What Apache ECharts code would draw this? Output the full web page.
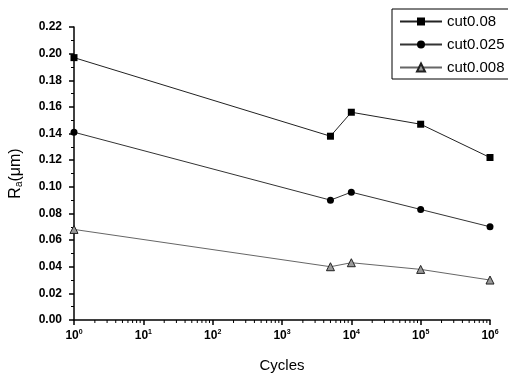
<!DOCTYPE html>
<html>
<head>
<meta charset="utf-8">
<script src="https://cdn.jsdelivr.net/npm/echarts@6/dist/echarts.min.js"></script>
<style>
  html, body { margin: 0; padding: 0; background: #fff; }
  #chart { width: 508px; height: 378px; }
</style>
</head>
<body>
<div id="chart"></div>
<script>
// cycles on the x axis (log scale)
const cycles = [1, 5000, 10000, 100000, 1000000]

// Ra values
const cut008 = [0.197, 0.138, 0.156, 0.147, 0.122]
const cut0025 = [0.141, 0.090, 0.096, 0.083, 0.070]
const cut0008 = [0.068, 0.040, 0.043, 0.038, 0.030]

const seriesNames = ['cut0.08', 'cut0.025', 'cut0.008']

// minor ticks on the log axis: 2..9 x 10^k
const minorTickPos = []
for (let k = 0; k < 6; k++) {
  for (let m = 2; m <= 9; m++) minorTickPos.push(m * Math.pow(10, k))
}

const pairs = vals => cycles.map((c, i) => [c, vals[i]])

const font = '"Liberation Sans", Arial, sans-serif'

const chart = echarts.init(document.getElementById('chart'), null, { renderer: 'canvas' })

chart.setOption({
  backgroundColor: '#fff',
  animation: false,
  textStyle: { fontFamily: font },
  grid: { left: 69, right: 18, top: 27, bottom: 51 },
  legend: {
    data: seriesNames,
    orient: 'vertical',
    left: 392,
    top: 9,
    itemWidth: 42,
    itemHeight: 10,
    itemGap: 8,
    padding: [5, 40, 4, 7],
    borderColor: '#000',
    borderWidth: 1,
    borderRadius: 0,
    textStyle: { fontSize: 15, color: '#000', fontFamily: font },
  },
  xAxis: {
    type: 'log',
    logBase: 10,
    min: 1,
    max: 1000000,
    name: 'Cycles',
    nameLocation: 'middle',
    nameGap: 38,
    nameTextStyle: { fontSize: 15, color: '#000' },
    axisLine: { lineStyle: { color: '#000', width: 1.5 } },
    axisTick: { length: 5, lineStyle: { color: '#000', width: 1.5 } },
    splitLine: { show: false },
    axisLabel: {
      margin: 9,
      color: '#000',
      fontSize: 12,
      fontWeight: 'bold',
      formatter: v => '10{sup|' + Math.round(Math.log10(v)) + '}',
      rich: {
        sup: { fontSize: 7, fontWeight: 'bold', verticalAlign: 'top', padding: [0, 0, 6, 0] },
      },
    },
  },
  yAxis: {
    type: 'value',
    min: 0,
    max: 0.22,
    interval: 0.02,
    name: 'R{sub|a}(μm)',
    nameLocation: 'middle',
    nameGap: 50,
    nameRotate: 90,
    nameTextStyle: {
      fontSize: 16,
      color: '#000',
      rich: { sub: { fontSize: 10, verticalAlign: 'bottom', padding: [6, 0, 0, 0] } },
    },
    axisLine: { show: true, lineStyle: { color: '#000', width: 1.5 } },
    axisTick: { show: true, length: 5, lineStyle: { color: '#000', width: 1.5 } },
    minorTick: { show: true, splitNumber: 2, length: 3, lineStyle: { color: '#000' } },
    splitLine: { show: false },
    axisLabel: {
      margin: 12,
      color: '#000',
      fontSize: 12,
      fontWeight: 'bold',
      formatter: v => v.toFixed(2),
    },
  },
  series: [
    {
      name: 'cut0.08',
      type: 'line',
      data: pairs(cut008),
      symbol: 'rect',
      symbolSize: 7,
      lineStyle: { color: '#222', width: 1 },
      itemStyle: { color: '#000' },
    },
    {
      name: 'cut0.025',
      type: 'line',
      data: pairs(cut0025),
      symbol: 'circle',
      symbolSize: 7,
      lineStyle: { color: '#333', width: 1 },
      itemStyle: { color: '#000' },
    },
    {
      name: 'cut0.008',
      type: 'line',
      data: pairs(cut0008),
      symbol: 'triangle',
      symbolSize: 8,
      lineStyle: { color: '#666', width: 1 },
      itemStyle: { color: '#999', borderColor: '#222', borderWidth: 1 },
    },
    {
      // log-axis minor ticks
      type: 'custom',
      silent: true,
      clip: false,
      data: minorTickPos.map(v => [v, 0]),
      renderItem(params, api) {
        const p = api.coord([api.value(0), 0])
        return {
          type: 'line',
          shape: { x1: p[0], y1: p[1], x2: p[0], y2: p[1] + 3 },
          style: { stroke: '#000', lineWidth: 1 },
        }
      },
    },
  ],
})
</script>
</body>
</html>
